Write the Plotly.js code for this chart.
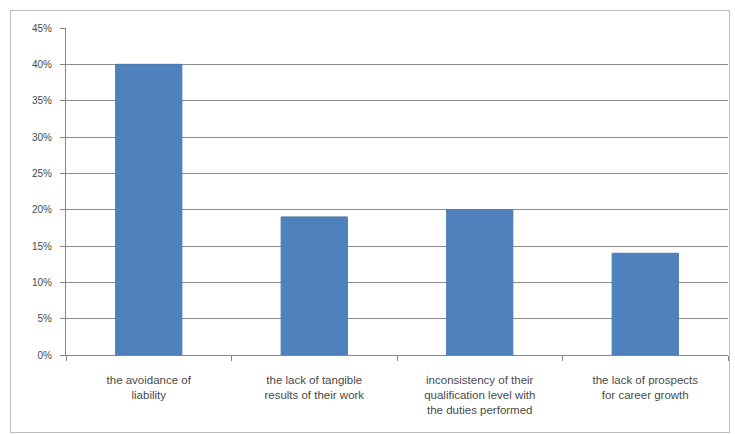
<!DOCTYPE html>
<html>
<head>
<meta charset="utf-8">
<script src="https://cdn.plot.ly/plotly-3.0.1.min.js"></script>
<style>
  html, body { margin: 0; padding: 0; background: #fff; }
  #wrap { position: relative; width: 735px; height: 434px; }
  #chart { width: 735px; height: 434px; }
  #frame { position: absolute; left: 10px; top: 10px; width: 718px; height: 421px; border: 1px solid #bcbcbc; pointer-events: none; }
</style>
</head>
<body>
<div id="wrap">
  <div id="chart"></div>
  <div id="frame"></div>
</div>
<script>
const categories = [
  "the avoidance of<br>liability",
  "the lack of tangible<br>results of their work",
  "inconsistency of their<br>qualification level with<br>the duties performed",
  "the lack of prospects<br>for career growth"
];
const values = [40, 19, 20, 14];
const yTickValues = [0, 5, 10, 15, 20, 25, 30, 35, 40, 45];
const yTickLabels = ["0%", "5%", "10%", "15%", "20%", "25%", "30%", "35%", "40%", "45%"];

const trace = {
  type: 'bar',
  x: categories,
  y: values,
  marker: { color: '#4f81bd', line: { color: '#4a7ab3', width: 1 } },
  hoverinfo: 'x+y'
};

const layout = {
  width: 735,
  height: 434,
  margin: { l: 66, r: 7, t: 28, b: 79 },
  paper_bgcolor: '#ffffff',
  plot_bgcolor: '#ffffff',
  bargap: 0.6,
  showlegend: false,
  font: { family: 'Liberation Sans, Arial, sans-serif', size: 10, color: '#404040' },
  xaxis: {
    type: 'category',
    showgrid: false,
    showline: true,
    linecolor: '#868686',
    linewidth: 1,
    ticks: 'outside',
    tickson: 'boundaries',
    ticklen: 5,
    tickcolor: '#868686',
    tickangle: 0,
    ticklabelstandoff: 14,
    tickfont: { size: 11.5, color: '#4a4a4a' },
    zeroline: false
  },
  yaxis: {
    range: [0, 45],
    tickmode: 'array',
    tickvals: yTickValues,
    ticktext: yTickLabels,
    showgrid: true,
    gridcolor: '#8c8c8c',
    gridwidth: 1,
    showline: true,
    linecolor: '#868686',
    ticks: 'outside',
    ticklen: 5,
    tickcolor: '#868686',
    ticklabelstandoff: 6,
    tickfont: { size: 10, color: '#4a4a4a' },
    zeroline: false
  }
};

Plotly.newPlot('chart', [trace], layout, { displayModeBar: false, staticPlot: true });
</script>
</body>
</html>
